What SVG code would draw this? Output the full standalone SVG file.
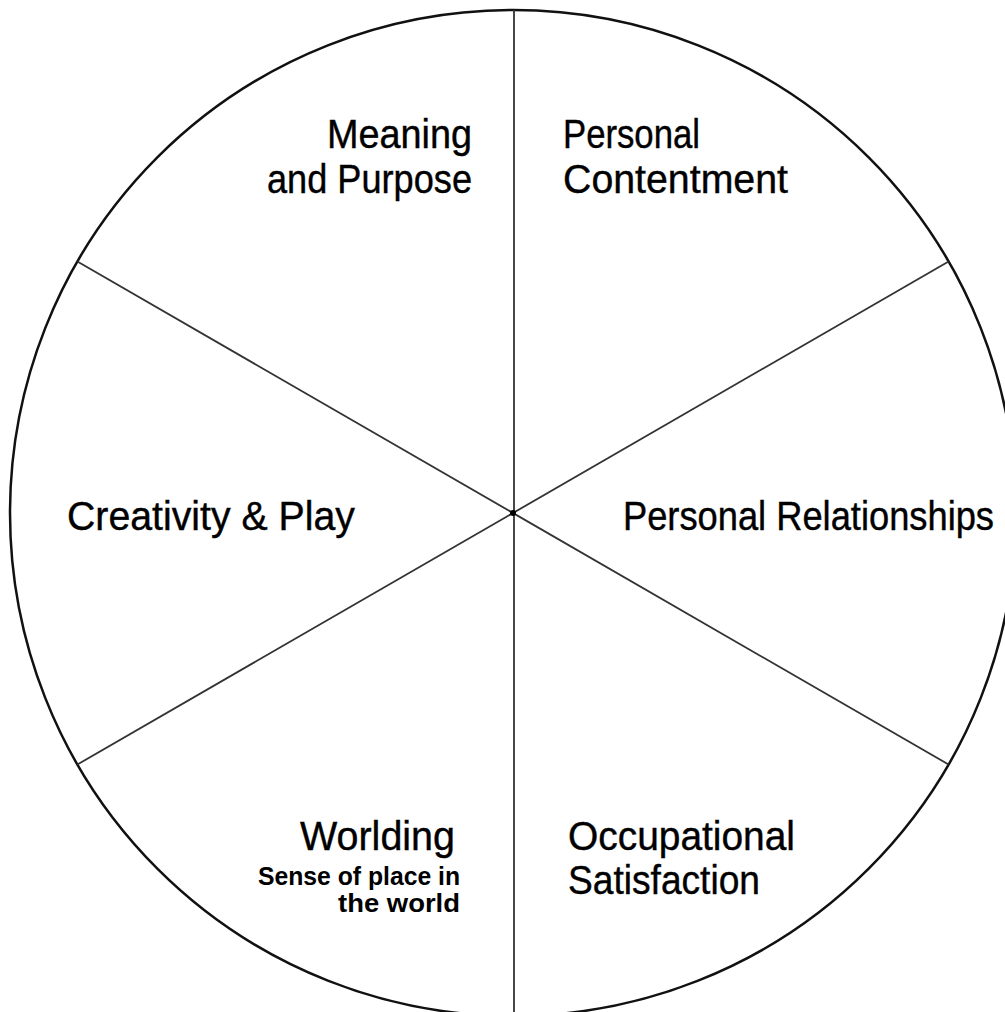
<svg xmlns="http://www.w3.org/2000/svg" width="1005" height="1012" viewBox="0 0 1005 1012">
<style>
.lbl{font-family:"Liberation Sans",Arial,sans-serif;font-size:40px;fill:#000;stroke:#000;stroke-width:0.4}
.sub{font-family:"Liberation Sans",Arial,sans-serif;font-size:25px;font-weight:bold;fill:#000}
.ring{fill:none;stroke:#111;stroke-width:2.5}
.spoke{stroke:#333;stroke-width:1.8}
</style>
<rect width="1005" height="1012" fill="#fff"/>
<g id="connectors">
<circle class="ring" cx="513" cy="513" r="503"/>
<line class="spoke" x1="514" y1="10" x2="514" y2="1012" stroke-width="2.2"/>
<line class="spoke" x1="77.4" y1="261.5" x2="948.6" y2="764.5"/>
<line class="spoke" x1="77.4" y1="764.5" x2="948.6" y2="261.5"/>
<circle cx="513" cy="513" r="3" fill="#000"/>
</g>
<g id="meaning">
<text class="lbl" x="472" y="148" text-anchor="end" textLength="145" lengthAdjust="spacingAndGlyphs">Meaning</text>
<text class="lbl" x="472" y="193" text-anchor="end" textLength="205" lengthAdjust="spacingAndGlyphs">and Purpose</text>
</g>
<g id="contentment">
<text class="lbl" x="563" y="148" textLength="137" lengthAdjust="spacingAndGlyphs">Personal</text>
<text class="lbl" x="563" y="193" textLength="225" lengthAdjust="spacingAndGlyphs">Contentment</text>
</g>
<g id="creativity">
<text class="lbl" x="67" y="530" textLength="288" lengthAdjust="spacingAndGlyphs">Creativity &amp; Play</text>
</g>
<g id="relationships">
<text class="lbl" x="623" y="530" textLength="371" lengthAdjust="spacingAndGlyphs">Personal Relationships</text>
</g>
<g id="occupational">
<text class="lbl" x="568" y="850" textLength="227" lengthAdjust="spacingAndGlyphs">Occupational</text>
<text class="lbl" x="568" y="894" textLength="192" lengthAdjust="spacingAndGlyphs">Satisfaction</text>
</g>
<g id="worlding">
<text class="lbl" x="455" y="850" text-anchor="end" textLength="155" lengthAdjust="spacingAndGlyphs">Worlding</text>
<text class="sub" x="460" y="885" text-anchor="end" textLength="202" lengthAdjust="spacingAndGlyphs">Sense of place in</text>
<text class="sub" x="460" y="912" text-anchor="end" textLength="122" lengthAdjust="spacingAndGlyphs">the world</text>
</g>
</svg>
